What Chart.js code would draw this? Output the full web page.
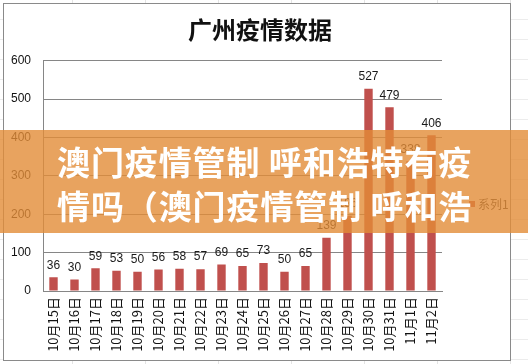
<!DOCTYPE html>
<html>
<head>
<meta charset="utf-8">
<script src="https://cdn.jsdelivr.net/npm/chart.js@4.4.0/dist/chart.umd.min.js"></script>
<style>
    html, body { margin: 0; padding: 0; }
    body {
        width: 528px; height: 364px; position: relative; overflow: hidden;
        background-color: #fff;
        background-image:
            repeating-linear-gradient(to right, transparent 0 72px, #e4e4e4 72px 73px),
            repeating-linear-gradient(to bottom, transparent 0 19px, #ececec 19px 20px);
    }
    #frame {
        position: absolute; left: 3px; top: 3px; width: 506px; height: 356px;
        border: 1px solid #8a8a8a; background: #fff;
    }
    #chart { position: absolute; left: 0; top: 0; }
    #banner {
        position: absolute; left: 0; top: 130px; width: 528px; height: 103px;
        background: rgba(226, 140, 55, 0.8);
        box-sizing: border-box; padding: 9px 0 0 57px;
        color: #fff; font-family: "Noto Sans CJK SC", sans-serif; font-weight: 700;
        font-size: 33px; line-height: 44px; letter-spacing: 0.9px; white-space: nowrap;
    }
</style>
</head>
<body>
<div id="frame"></div>
<canvas id="chart" width="528" height="364"></canvas>
<div id="banner">澳门疫情管制 呼和浩特有疫<br>情吗（澳门疫情管制 呼和浩</div>
<script>
// --- Dados do gráfico ---
const dates = ['10月15日', '10月16日', '10月17日', '10月18日', '10月19日', '10月20日', '10月21日',
    '10月22日', '10月23日', '10月24日', '10月25日', '10月26日', '10月27日', '10月28日',
    '10月29日', '10月30日', '10月31日', '11月1日', '11月2日'];
const cases = [36, 30, 59, 53, 50, 56, 58, 57, 69, 65, 73, 50, 65, 139, 196, 527, 479, 338, 406];
const seriesName = '系列1';
const chartTitle = '广州疫情数据';

const barColor = '#c0504d';
const labelFont = '12px "Liberation Sans", Arial, sans-serif';

// rótulos de valor em cima das barras
const valueLabels = {
    id: 'valueLabels',
    afterDatasetsDraw(chart) {
        const ctx = chart.ctx;
        const meta = chart.getDatasetMeta(0);
        ctx.save();
        ctx.font = labelFont;
        ctx.fillStyle = '#1a1a1a';
        ctx.textAlign = 'center';
        ctx.textBaseline = 'bottom';
        meta.data.forEach((bar, i) => {
            ctx.fillText(String(cases[i]), bar.x, bar.y - 6);
        });
        ctx.restore();
    }
};

// legenda simples à direita (estilo Excel)
const sideLegend = {
    id: 'sideLegend',
    afterDraw(chart) {
        const ctx = chart.ctx;
        ctx.save();
        ctx.fillStyle = barColor;
        ctx.fillRect(469, 201, 6, 6);
        ctx.font = '12px "Noto Sans CJK SC", sans-serif';
        ctx.fillStyle = '#333';
        ctx.textAlign = 'left';
        ctx.textBaseline = 'middle';
        ctx.fillText(seriesName, 478, 204);
        ctx.restore();
    }
};

new Chart(document.getElementById('chart'), {
    type: 'bar',
    data: {
        labels: dates,
        datasets: [{
            label: seriesName,
            data: cases,
            backgroundColor: barColor,
            categoryPercentage: 1,
            barPercentage: 0.4
        }]
    },
    options: {
        responsive: false,
        animation: false,
        layout: { padding: { top: 8, right: 8, bottom: 0, left: 0 } },
        plugins: {
            legend: { display: false },
            tooltip: { enabled: false },
            title: {
                display: true,
                text: chartTitle,
                color: '#111',
                font: { family: '"Noto Sans CJK SC", sans-serif', size: 24, weight: 'bold' },
                padding: { top: 7, bottom: 17 }
            }
        },
        scales: {
            x: {
                afterFit: scale => { scale.height = 73; },
                grid: { display: false, drawTicks: false },
                border: { display: true, color: '#868686' },
                ticks: {
                    autoSkip: false, minRotation: 90, maxRotation: 90, padding: 6,
                    color: '#111',
                    font: { family: '"Noto Sans CJK SC", sans-serif', size: 13 }
                }
            },
            y: {
                min: 0, max: 600,
                afterFit: scale => { scale.width = 43; },
                grid: { color: '#868686', drawTicks: false },
                border: { display: true, color: '#868686' },
                ticks: {
                    stepSize: 100, padding: 12, color: '#111',
                    font: { family: '"Liberation Sans", Arial, sans-serif', size: 12 }
                }
            },
            // espaço vazio à direita onde fica a legenda
            legendSpace: {
                position: 'right',
                afterFit: scale => { scale.width = 78; },
                grid: { display: false, drawTicks: false },
                border: { display: false },
                ticks: { display: false }
            }
        }
    },
    plugins: [valueLabels, sideLegend]
});
</script>
</body>
</html>
